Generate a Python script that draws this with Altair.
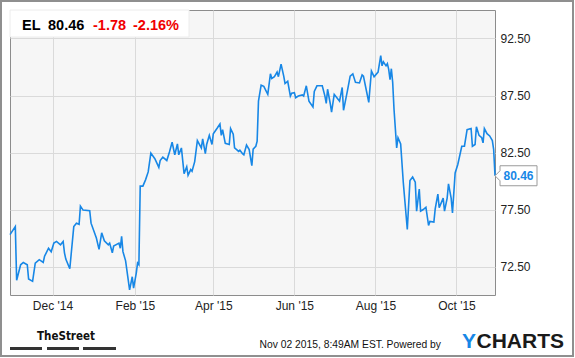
import altair as alt
import pandas as pd

# ---------------- data ----------------
ticker = "EL"
last_price = "80.46"
change = "-1.78"
change_pct = "-2.16%"
stamp = "Nov 02 2015, 8:49AM EST.  Powered by"

dates = [
    "2014-10-30", "2014-11-03", "2014-11-04", "2014-11-07", "2014-11-09", "2014-11-12", "2014-11-13",
    "2014-11-16", "2014-11-18", "2014-11-21", "2014-11-24", "2014-11-25", "2014-11-28", "2014-11-30",
    "2014-12-02", "2014-12-04", "2014-12-07", "2014-12-09", "2014-12-10", "2014-12-11", "2014-12-14",
    "2014-12-17", "2014-12-19", "2014-12-21", "2014-12-22", "2014-12-24", "2014-12-29", "2014-12-30",
    "2015-01-03", "2015-01-05", "2015-01-07", "2015-01-09", "2015-01-12", "2015-01-13", "2015-01-15",
    "2015-01-16", "2015-01-20", "2015-01-21", "2015-01-22", "2015-01-23", "2015-01-25", "2015-01-28",
    "2015-01-30", "2015-01-31", "2015-02-02", "2015-02-03", "2015-02-04", "2015-02-05", "2015-02-07",
    "2015-02-09", "2015-02-11", "2015-02-13", "2015-02-16", "2015-02-19", "2015-02-20", "2015-02-22",
    "2015-02-25", "2015-02-27", "2015-03-01", "2015-03-03", "2015-03-05", "2015-03-06", "2015-03-08",
    "2015-03-10", "2015-03-12", "2015-03-13", "2015-03-15", "2015-03-16", "2015-03-18", "2015-03-20",
    "2015-03-23", "2015-03-24", "2015-03-26", "2015-03-27", "2015-03-29", "2015-03-31", "2015-04-01",
    "2015-04-04", "2015-04-06", "2015-04-07", "2015-04-08", "2015-04-10", "2015-04-13", "2015-04-14",
    "2015-04-16", "2015-04-17", "2015-04-19", "2015-04-20", "2015-04-21", "2015-04-23", "2015-04-24",
    "2015-04-26", "2015-04-28", "2015-04-30", "2015-05-01", "2015-05-03", "2015-05-04", "2015-05-05",
    "2015-05-07", "2015-05-09", "2015-05-12", "2015-05-14", "2015-05-15", "2015-05-17", "2015-05-19",
    "2015-05-20", "2015-05-22", "2015-05-24", "2015-05-25", "2015-05-27", "2015-05-29", "2015-05-30",
    "2015-06-01", "2015-06-02", "2015-06-04", "2015-06-07", "2015-06-08", "2015-06-10", "2015-06-12",
    "2015-06-15", "2015-06-16", "2015-06-18", "2015-06-21", "2015-06-22", "2015-06-24", "2015-06-25",
    "2015-06-26", "2015-06-28", "2015-06-29", "2015-07-01", "2015-07-03", "2015-07-05", "2015-07-07",
    "2015-07-08", "2015-07-11", "2015-07-13", "2015-07-15", "2015-07-17", "2015-07-20", "2015-07-22",
    "2015-07-23", "2015-07-25", "2015-07-27", "2015-07-29", "2015-07-31", "2015-08-03", "2015-08-05",
    "2015-08-06", "2015-08-07", "2015-08-09", "2015-08-10", "2015-08-11", "2015-08-12", "2015-08-13",
    "2015-08-14", "2015-08-15", "2015-08-17", "2015-08-18", "2015-08-20", "2015-08-22", "2015-08-25",
    "2015-08-27", "2015-08-29", "2015-08-31", "2015-09-01", "2015-09-03", "2015-09-04", "2015-09-06",
    "2015-09-08", "2015-09-10", "2015-09-11", "2015-09-14", "2015-09-15", "2015-09-17", "2015-09-18",
    "2015-09-21", "2015-09-22", "2015-09-24", "2015-09-25", "2015-09-27", "2015-09-28", "2015-09-30",
    "2015-10-02", "2015-10-05", "2015-10-07", "2015-10-09", "2015-10-12", "2015-10-13", "2015-10-15",
    "2015-10-16", "2015-10-18", "2015-10-20", "2015-10-21", "2015-10-22", "2015-10-24", "2015-10-26",
    "2015-10-28", "2015-10-29", "2015-10-30",
]

prices = [
    75.3, 76.0, 71.3, 72.65, 72.85, 72.65, 71.4,
    71.2, 72.8, 73.1, 72.85, 73.4, 74.1, 73.8,
    74.55, 74.7, 74.4, 74.7, 73.7, 73.15, 72.3,
    76.0, 76.3, 76.2, 77.8, 77.45, 77.4, 76.3,
    75.0, 74.0, 75.45, 74.75, 74.4, 74.55, 73.7,
    74.3, 74.55, 74.1, 75.15, 73.8, 73.0, 70.45,
    71.6, 70.6, 71.9, 72.8, 72.65, 79.55, 79.55,
    80.1, 80.8, 82.45, 81.95, 81.2, 81.8, 82.1,
    81.8, 82.55, 83.4, 82.3, 83.25, 82.3, 82.9,
    80.65, 81.25, 80.5, 81.0, 80.85, 81.7, 83.55,
    82.9, 83.7, 82.4, 83.2, 84.0, 83.2, 84.15,
    84.65, 85.0, 84.0, 84.5, 83.3, 83.2, 84.6,
    84.1, 82.9, 82.7, 82.6, 82.7, 82.4, 82.3,
    83.15, 82.75, 81.35, 82.8, 83.05, 83.5, 87.0,
    88.4, 88.3, 87.6, 89.4, 89.0, 89.15, 89.55,
    89.15, 90.25, 89.2, 88.55, 88.75, 87.45, 87.7,
    87.75, 87.3, 87.45, 87.55, 87.45, 88.35, 87.0,
    86.5, 87.85, 88.35, 88.35, 88.35, 87.45, 86.8,
    88.05, 86.8, 86.05, 87.6, 87.3, 87.0, 88.2,
    86.2, 87.95, 89.2, 89.4, 88.65, 88.6, 89.3,
    89.2, 88.05, 86.9, 89.65, 89.15, 89.55, 91.0,
    90.1, 90.45, 90.1, 90.3, 89.8, 88.9, 89.85,
    88.65, 86.3, 82.9, 83.8, 83.25, 79.85, 75.75,
    80.05, 80.35, 79.9, 77.35, 79.3, 77.35, 77.5,
    77.7, 76.1, 76.45, 76.4, 77.55, 78.85, 77.65,
    78.5, 77.35, 78.5, 79.75, 78.5, 77.2, 80.7,
    81.45, 83.05, 83.05, 84.5, 84.6, 83.05, 83.2,
    84.75, 84.0, 83.8, 83.35, 84.6, 84.15, 83.95,
    83.55, 82.75, 80.46,
]

x_ticks = ["2014-12-01", "2015-02-01", "2015-04-01", "2015-06-01", "2015-08-01", "2015-10-01"]
x_range = ["2014-10-30", "2015-10-30"]
y_ticks = [72.5, 77.5, 82.5, 87.5, 92.5]
y_range = [70, 95]

# ---------------- chart ----------------
FONT = "Liberation Sans, Arial, Helvetica, sans-serif"
BLUE = "#1787e6"
RED = "#f00000"
GRID = "#dadada"


def dt(s):
    y, m, d = (int(p) for p in s.split("-"))
    return alt.DateTime(year=y, month=m, date=d)


df = pd.DataFrame({"date": pd.to_datetime(dates), "price": prices})
last = df.tail(1).copy()
one = pd.DataFrame({"k": [0]})

x_enc = alt.X(
    "date:T",
    scale=alt.Scale(domain=[dt(s) for s in x_range], nice=False),
    axis=alt.Axis(
        values=[dt(s) for s in x_ticks], format="%b '%y", title=None, grid=True,
        gridColor=GRID, ticks=False, domain=False, labelFont=FONT, labelFontSize=12,
        labelColor="#222222", labelPadding=5, labelAngle=0,
    ),
)
y_enc = alt.Y(
    "price:Q",
    scale=alt.Scale(domain=y_range, nice=False, zero=False),
    axis=alt.Axis(
        orient="right", values=y_ticks, format=".2f", title=None, grid=True,
        gridColor=GRID, ticks=False, domain=False, labelFont=FONT, labelFontSize=12,
        labelColor="#222222", labelPadding=5,
    ),
)

line = alt.Chart(df).mark_line(color=BLUE, strokeWidth=1.6).encode(x=x_enc, y=y_enc)

callout_box = alt.Chart(last).mark_point(
    shape="M 0 0 L 5 -5 L 5 -10 L 42 -10 L 42 10 L 5 10 L 5 5 Z",
    size=4, filled=True, fill="white", stroke="#9a9a9a", strokeWidth=1, opacity=1,
).encode(x="date:T", y="price:Q")

callout_text = alt.Chart(last).mark_text(
    dx=23.5, align="center", baseline="middle", font=FONT, fontSize=12,
    fontWeight="bold", color=BLUE,
).encode(x="date:T", y="price:Q", text=alt.Text("price:Q", format=".2f"))

# header box
header_box = alt.Chart(one).mark_rect(fill="white", stroke="#ececec", strokeWidth=1).encode(
    x=alt.value(0), x2=alt.value(179), y=alt.value(0), y2=alt.value(27)
)


def label(txt, x, y, color="#000000", size=14, weight="bold", align="left", font=FONT):
    return alt.Chart(pd.DataFrame({"t": [txt]})).mark_text(
        align=align, baseline="alphabetic", font=font, fontSize=size,
        fontWeight=weight, color=color,
    ).encode(text="t:N", x=alt.value(x), y=alt.value(y))


h1 = label(ticker, 12, 19.5, size=14.5)
h2 = label(last_price, 38, 19.5, size=14.5)
h3 = label(change, 83, 19.5, color=RED, size=14.5)
h4 = label(change_pct, 123, 19.5, color=RED, size=14.5)

# outer frame
frame = alt.Chart(one).mark_rect(fill="transparent", stroke="#8f8f8f", strokeWidth=2).encode(
    x=alt.value(-9), x2=alt.value(563), y=alt.value(-9), y2=alt.value(346)
)

# footer
street = label("TheStreet", 27, 330, color="#111111", size=11.5,
               font="DejaVu Sans Condensed, Liberation Sans Narrow, Arial Narrow, Liberation Sans, sans-serif")
bars = [
    alt.Chart(one).mark_rect(fill="#333333").encode(
        x=alt.value(a), x2=alt.value(b), y=alt.value(337), y2=alt.value(340))
    for a, b in [(0, 32), (37, 69), (73, 106)]
]
stamp_txt = label(stamp, 431, 338, color="#111111", size=10.3, weight="normal", align="right")
ych_y = label("Y", 452, 338, color=BLUE, size=21, weight="bold")
ych_rest = label("CHARTS", 466.5, 338, color="#1a1a1a", size=21, weight="bold")

chart = alt.layer(
    frame, line, header_box, h1, h2, h3, h4, callout_box, callout_text,
    street, *bars, stamp_txt, ych_y, ych_rest,
).properties(
    width=485, height=285,
    autosize=alt.AutoSizeParams(type="none"),
    padding={"left": 10, "top": 10, "right": 80, "bottom": 63},
    background="white",
).configure_view(
    fill="#f6f6f6", stroke="#8c8c8c", strokeWidth=1,
)

chart.save("out.html", embed_options={"renderer": "svg", "actions": False})
